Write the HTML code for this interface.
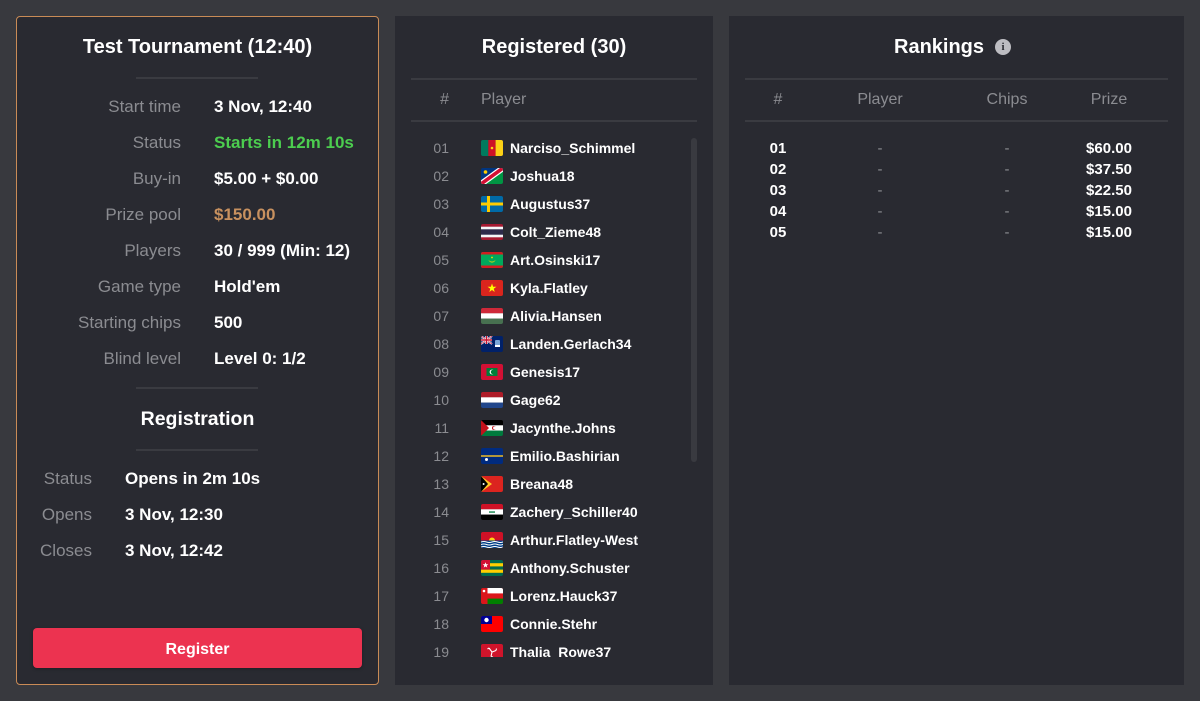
<!DOCTYPE html>
<html><head><meta charset="utf-8"><style>
*{margin:0;padding:0;box-sizing:border-box}
html,body{width:1200px;height:701px;overflow:hidden;background:#38393e;font-family:"Liberation Sans",sans-serif;color:#fff}
.a{position:absolute;white-space:nowrap}
.panel{position:absolute;background:#292a31}
.div{position:absolute;height:2px;background:#3a3b41}
.lab{color:#8b8c91;font-size:17px;line-height:20px;text-align:right}
.val{font-weight:bold;font-size:17px;line-height:20px}
.num{color:#8b8c91;font-size:14px;line-height:20px;text-align:right;width:40px;left:14px}
.name{font-weight:bold;font-size:14px;line-height:20px;left:115px}
.flag{position:absolute;left:86px;width:22px;height:16px;border-radius:2px;overflow:hidden}
.flag svg{display:block}
.rk{font-size:15px;line-height:20px;text-align:center;width:100px;font-weight:bold}
.dash{color:#8b8c91;font-weight:normal}
.hd{color:#8b8c91;font-size:16px;line-height:20px}
</style></head><body>

<!-- LEFT PANEL -->
<div class="panel" style="left:16px;top:16px;width:363px;height:669px;border:1px solid #c98b56;border-radius:4px"></div>
<div class="a" style="left:16px;width:363px;top:35px;font-size:20px;line-height:24px;font-weight:bold;text-align:center">Test Tournament (12:40)</div>
<div class="div" style="left:136px;width:122px;top:77px"></div>

<div class="a lab" style="left:16px;width:165px;top:97px">Start time</div><div class="a val" style="left:214px;top:97px">3 Nov, 12:40</div>
<div class="a lab" style="left:16px;width:165px;top:133px">Status</div><div class="a val" style="left:214px;top:133px;color:#4ccd4f">Starts in 12m 10s</div>
<div class="a lab" style="left:16px;width:165px;top:169px">Buy-in</div><div class="a val" style="left:214px;top:169px">$5.00 + $0.00</div>
<div class="a lab" style="left:16px;width:165px;top:205px">Prize pool</div><div class="a val" style="left:214px;top:205px;color:#c8915f">$150.00</div>
<div class="a lab" style="left:16px;width:165px;top:241px">Players</div><div class="a val" style="left:214px;top:241px">30 / 999 (Min: 12)</div>
<div class="a lab" style="left:16px;width:165px;top:277px">Game type</div><div class="a val" style="left:214px;top:277px">Hold'em</div>
<div class="a lab" style="left:16px;width:165px;top:313px">Starting chips</div><div class="a val" style="left:214px;top:313px">500</div>
<div class="a lab" style="left:16px;width:165px;top:349px">Blind level</div><div class="a val" style="left:214px;top:349px">Level 0: 1/2</div>

<div class="div" style="left:136px;width:122px;top:387px"></div>
<div class="a" style="left:16px;width:363px;top:407px;font-size:19.5px;line-height:24px;font-weight:bold;text-align:center">Registration</div>
<div class="div" style="left:136px;width:122px;top:449px"></div>

<div class="a lab" style="left:16px;width:76px;top:469px">Status</div><div class="a val" style="left:125px;top:469px">Opens in 2m 10s</div>
<div class="a lab" style="left:16px;width:76px;top:505px">Opens</div><div class="a val" style="left:125px;top:505px">3 Nov, 12:30</div>
<div class="a lab" style="left:16px;width:76px;top:541px">Closes</div><div class="a val" style="left:125px;top:541px">3 Nov, 12:42</div>

<div class="a" style="left:33px;top:628px;width:329px;height:40px;background:#ec3350;border-radius:4px;box-shadow:0 1px 3px rgba(0,0,0,.3);font-weight:bold;font-size:16px;line-height:40px;padding-top:2px;text-align:center">Register</div>

<!-- MIDDLE PANEL -->
<div class="panel" style="left:395px;top:16px;width:318px;height:669px"></div>
<div class="a" style="left:395px;width:318px;top:35px;font-size:20px;line-height:24px;font-weight:bold;text-align:center">Registered (30)</div>
<div class="div" style="left:411px;width:286px;top:78px"></div>
<div class="a hd" style="left:409px;width:40px;text-align:right;top:90px">#</div>
<div class="a hd" style="left:481px;top:90px">Player</div>
<div class="div" style="left:411px;width:286px;top:120px"></div>
<div class="a" style="left:691px;top:138px;width:6px;height:324px;background:#393a40;border-radius:3px"></div>

<div class="a" style="left:395px;top:122px;width:290px;height:535px;overflow:hidden">
<div class="a num" style="top:16px">01</div><div class="flag" style="top:18px"><svg width="22" height="16" viewBox="0 0 22 16"><rect width="7.4" height="16" fill="#007a5e"/><rect x="7.3" width="7.4" height="16" fill="#ce1126"/><rect x="14.6" width="7.4" height="16" fill="#fcd116"/><circle cx="11" cy="8" r="1.3" fill="#fcd116"/></svg></div><div class="a name" style="top:16px">Narciso_Schimmel</div>

<div class="a num" style="top:44px">02</div><div class="flag" style="top:46px"><svg width="22" height="16" viewBox="0 0 22 16"><polygon points="0,0 22,0 0,16" fill="#003580"/><polygon points="22,0 22,16 0,16" fill="#009543"/><line x1="0" y1="16" x2="22" y2="0" stroke="#fff" stroke-width="6"/><line x1="0" y1="16" x2="22" y2="0" stroke="#d21034" stroke-width="3.6"/><circle cx="4.5" cy="4" r="1.8" fill="#ffce00"/></svg></div><div class="a name" style="top:44px">Joshua18</div>

<div class="a num" style="top:72px">03</div><div class="flag" style="top:74px"><svg width="22" height="16" viewBox="0 0 22 16"><rect width="22" height="16" fill="#006aa7"/><rect x="6" width="3" height="16" fill="#fecc00"/><rect y="6.5" width="22" height="3" fill="#fecc00"/></svg></div><div class="a name" style="top:72px">Augustus37</div>

<div class="a num" style="top:100px">04</div><div class="flag" style="top:102px"><svg width="22" height="16" viewBox="0 0 22 16"><rect width="22" height="16" fill="#a51931"/><rect y="2.7" width="22" height="10.6" fill="#f4f5f8"/><rect y="5.3" width="22" height="5.4" fill="#2d2a4a"/></svg></div><div class="a name" style="top:100px">Colt_Zieme48</div>

<div class="a num" style="top:128px">05</div><div class="flag" style="top:130px"><svg width="22" height="16" viewBox="0 0 22 16"><rect width="22" height="16" fill="#00a95c"/><rect width="22" height="2.5" fill="#d01c1f"/><rect y="13.5" width="22" height="2.5" fill="#d01c1f"/><path d="M7.5 7 A3.5 3.5 0 0 0 14.5 7 A3.5 2.6 0 0 1 7.5 7Z" fill="#ffd700"/><circle cx="11" cy="5.5" r=".9" fill="#ffd700"/></svg></div><div class="a name" style="top:128px">Art.Osinski17</div>

<div class="a num" style="top:156px">06</div><div class="flag" style="top:158px"><svg width="22" height="16" viewBox="0 0 22 16"><rect width="22" height="16" fill="#da251d"/><polygon points="11,3.5 12.1,6.7 15.4,6.7 12.7,8.7 13.7,12 11,10 8.3,12 9.3,8.7 6.6,6.7 9.9,6.7" fill="#ffff00"/></svg></div><div class="a name" style="top:156px">Kyla.Flatley</div>

<div class="a num" style="top:184px">07</div><div class="flag" style="top:186px"><svg width="22" height="16" viewBox="0 0 22 16"><rect width="22" height="5.4" fill="#ce2939"/><rect y="5.3" width="22" height="5.4" fill="#fff"/><rect y="10.6" width="22" height="5.4" fill="#477050"/></svg></div><div class="a name" style="top:184px">Alivia.Hansen</div>

<div class="a num" style="top:212px">08</div><div class="flag" style="top:214px"><svg width="22" height="16" viewBox="0 0 22 16"><rect width="22" height="16" fill="#012169"/><path d="M0 0L11 8M11 0L0 8" stroke="#fff" stroke-width="1.8"/><path d="M0 0L11 8M11 0L0 8" stroke="#c8102e" stroke-width=".7"/><path d="M5.5 0V8M0 4H11" stroke="#fff" stroke-width="2.6"/><path d="M5.5 0V8M0 4H11" stroke="#c8102e" stroke-width="1.4"/><rect x="14" y="4" width="5" height="6" rx="1" fill="#7aa7d9"/><rect x="14" y="9" width="5" height="2" fill="#fff"/></svg></div><div class="a name" style="top:212px">Landen.Gerlach34</div>

<div class="a num" style="top:240px">09</div><div class="flag" style="top:242px"><svg width="22" height="16" viewBox="0 0 22 16"><rect width="22" height="16" fill="#d21034"/><rect x="5.5" y="4" width="11" height="8" fill="#007e3a"/><circle cx="11" cy="8" r="2.4" fill="#fff"/><circle cx="11.9" cy="8" r="2.1" fill="#007e3a"/></svg></div><div class="a name" style="top:240px">Genesis17</div>

<div class="a num" style="top:268px">10</div><div class="flag" style="top:270px"><svg width="22" height="16" viewBox="0 0 22 16"><rect width="22" height="5.4" fill="#ae1c28"/><rect y="5.3" width="22" height="5.4" fill="#fff"/><rect y="10.6" width="22" height="5.4" fill="#21468b"/></svg></div><div class="a name" style="top:268px">Gage62</div>

<div class="a num" style="top:296px">11</div><div class="flag" style="top:298px"><svg width="22" height="16" viewBox="0 0 22 16"><rect width="22" height="5.4" fill="#000"/><rect y="5.3" width="22" height="5.4" fill="#fff"/><rect y="10.6" width="22" height="5.4" fill="#007a3d"/><polygon points="0,0 8,8 0,16" fill="#c4111b"/><circle cx="13" cy="8" r="2" fill="#c4111b"/><circle cx="13.7" cy="8" r="1.6" fill="#fff"/></svg></div><div class="a name" style="top:296px">Jacynthe.Johns</div>

<div class="a num" style="top:324px">12</div><div class="flag" style="top:326px"><svg width="22" height="16" viewBox="0 0 22 16"><rect width="22" height="16" fill="#002b7f"/><rect y="7.3" width="22" height="1.4" fill="#ffc61e"/><circle cx="5.5" cy="11.5" r="1.5" fill="#fff"/></svg></div><div class="a name" style="top:324px">Emilio.Bashirian</div>

<div class="a num" style="top:352px">13</div><div class="flag" style="top:354px"><svg width="22" height="16" viewBox="0 0 22 16"><rect width="22" height="16" fill="#dc241f"/><polygon points="0,0 11,8 0,16" fill="#ffc726"/><polygon points="0,0 7,8 0,16" fill="#000"/><circle cx="2.6" cy="8" r="1" fill="#fff"/></svg></div><div class="a name" style="top:352px">Breana48</div>

<div class="a num" style="top:380px">14</div><div class="flag" style="top:382px"><svg width="22" height="16" viewBox="0 0 22 16"><rect width="22" height="5.4" fill="#ce1126"/><rect y="5.3" width="22" height="5.4" fill="#fff"/><rect y="10.6" width="22" height="5.4" fill="#000"/><rect x="8" y="7.4" width="6" height="1.3" fill="#007a3d"/></svg></div><div class="a name" style="top:380px">Zachery_Schiller40</div>

<div class="a num" style="top:408px">15</div><div class="flag" style="top:410px"><svg width="22" height="16" viewBox="0 0 22 16"><rect width="22" height="16" fill="#ce1126"/><circle cx="11" cy="8.5" r="3" fill="#fcd116"/><rect y="8.5" width="22" height="7.5" fill="#003f87"/><path d="M0 10Q2.75 9 5.5 10T11 10T16.5 10T22 10M0 12.5Q2.75 11.5 5.5 12.5T11 12.5T16.5 12.5T22 12.5M0 15Q2.75 14 5.5 15T11 15T16.5 15T22 15" stroke="#fff" stroke-width="1" fill="none"/></svg></div><div class="a name" style="top:408px">Arthur.Flatley-West</div>

<div class="a num" style="top:436px">16</div><div class="flag" style="top:438px"><svg width="22" height="16" viewBox="0 0 22 16"><rect width="22" height="16" fill="#006a4e"/><rect y="3.2" width="22" height="3.2" fill="#ffce00"/><rect y="9.6" width="22" height="3.2" fill="#ffce00"/><rect width="9" height="9.6" fill="#d21034"/><polygon points="4.5,2.3 5.3,4.3 7.3,4.3 5.7,5.6 6.3,7.6 4.5,6.4 2.7,7.6 3.3,5.6 1.7,4.3 3.7,4.3" fill="#fff"/></svg></div><div class="a name" style="top:436px">Anthony.Schuster</div>

<div class="a num" style="top:464px">17</div><div class="flag" style="top:466px"><svg width="22" height="16" viewBox="0 0 22 16"><rect width="22" height="16" fill="#db161b"/><rect x="6.5" width="15.5" height="5.4" fill="#fff"/><rect x="6.5" y="10.6" width="15.5" height="5.4" fill="#008000"/><circle cx="3" cy="3" r="1.3" fill="#fff"/></svg></div><div class="a name" style="top:464px">Lorenz.Hauck37</div>

<div class="a num" style="top:492px">18</div><div class="flag" style="top:494px"><svg width="22" height="16" viewBox="0 0 22 16"><rect width="22" height="16" fill="#fe0000"/><rect width="11" height="8" fill="#000095"/><circle cx="5.5" cy="4" r="2.2" fill="#fff"/></svg></div><div class="a name" style="top:492px">Connie.Stehr</div>

<div class="a num" style="top:520px">19</div><div class="flag" style="top:522px"><svg width="22" height="16" viewBox="0 0 22 16"><rect width="22" height="16" fill="#cf142b"/><path d="M11 8L8 4M11 8L15 6.5M11 8L10 12.5M8 4L6.5 5M15 6.5L15.5 4.5M10 12.5L12 13" stroke="#fff" stroke-width="1.1" fill="none"/></svg></div><div class="a name" style="top:520px">Thalia_Rowe37</div>
</div>

<!-- RIGHT PANEL -->
<div class="panel" style="left:729px;top:16px;width:455px;height:669px"></div>
<div class="a" style="left:894px;top:35px;font-size:20px;line-height:24px;font-weight:bold">Rankings</div>
<div class="a" style="left:995px;top:39px;width:16px;height:16px;border-radius:50%;background:#bdbdc2;color:#292a31;font-weight:bold;font-size:11px;line-height:16px;text-align:center;font-family:'Liberation Serif',serif">i</div>
<div class="div" style="left:745px;width:423px;top:78px"></div>
<div class="a hd" style="left:728px;width:100px;text-align:center;top:90px">#</div>
<div class="a hd" style="left:830px;width:100px;text-align:center;top:90px">Player</div>
<div class="a hd" style="left:957px;width:100px;text-align:center;top:90px">Chips</div>
<div class="a hd" style="left:1059px;width:100px;text-align:center;top:90px">Prize</div>
<div class="div" style="left:745px;width:423px;top:120px"></div>

<div class="a rk" style="left:728px;top:139px">01</div><div class="a rk dash" style="left:830px;top:139px">-</div><div class="a rk dash" style="left:957px;top:139px">-</div><div class="a rk" style="left:1059px;top:139px">$60.00</div>
<div class="a rk" style="left:728px;top:160px">02</div><div class="a rk dash" style="left:830px;top:160px">-</div><div class="a rk dash" style="left:957px;top:160px">-</div><div class="a rk" style="left:1059px;top:160px">$37.50</div>
<div class="a rk" style="left:728px;top:181px">03</div><div class="a rk dash" style="left:830px;top:181px">-</div><div class="a rk dash" style="left:957px;top:181px">-</div><div class="a rk" style="left:1059px;top:181px">$22.50</div>
<div class="a rk" style="left:728px;top:202px">04</div><div class="a rk dash" style="left:830px;top:202px">-</div><div class="a rk dash" style="left:957px;top:202px">-</div><div class="a rk" style="left:1059px;top:202px">$15.00</div>
<div class="a rk" style="left:728px;top:223px">05</div><div class="a rk dash" style="left:830px;top:223px">-</div><div class="a rk dash" style="left:957px;top:223px">-</div><div class="a rk" style="left:1059px;top:223px">$15.00</div>

</body></html>
